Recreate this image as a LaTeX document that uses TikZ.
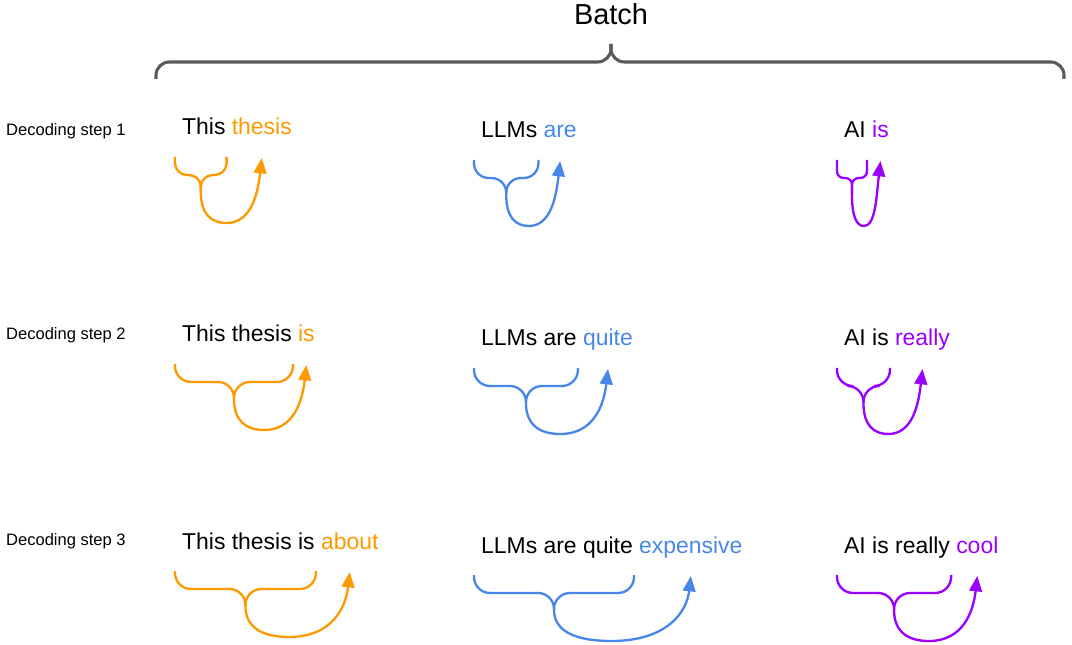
\documentclass[tikz,border=0pt]{standalone}
\usepackage{fontspec}
\setmainfont{Liberation Sans}
\usetikzlibrary{calc,arrows.meta}
\definecolor{tokorange}{HTML}{FF9900}
\definecolor{tokblue}{HTML}{4A86E8}
\definecolor{tokpurple}{HTML}{9900FF}
\definecolor{bracegray}{HTML}{595959}

% brace under the context words, arrow up to the new word
\newcommand{\tokbrace}[4][12pt]{%
  \coordinate (bl) at ($(#2.base west)+(-6,22)$);
  \coordinate (br) at ($(#2.base east)+(0,22)$);
  \coordinate (bm) at ($(bl)!0.5!(br)+(0,18)$);
  \coordinate (bc) at ($(bm)+(0,17)$);
  \coordinate (tip) at ($(#3.base)+(0,23)$);
  \coordinate (bx) at ($(bc)!0.42!(tip)$);
  \coordinate (by) at ($(#2.base)+(0,88)$);
  \coordinate (bot) at (bx |- by);
  \draw[#4,rounded corners=#1] (bl) |- (bm) -- (bc);
  \draw[#4,rounded corners=#1] (br) |- (bm) -- (bc);
  \draw[#4,tokarrow] (bc) .. controls ($(bc)+(0,22)$) and ($(bot)!0.6!(bc |- bot)$) .. (bot)
    .. controls ($(bot)!0.7!(tip |- bot)$) and ($(tip)+(-4,36)$) .. (tip);
}

\begin{document}
\begin{tikzpicture}[x=0.75pt,y=-0.75pt,
  word/.style={font=\fontsize{17.2}{20}\selectfont,inner sep=0pt,anchor=base west},
  newword/.style={word,xshift=3pt},
  steplabel/.style={font=\fontsize{12.4}{15}\selectfont,inner sep=0pt,anchor=base west},
  tokarrow/.style={-{Triangle[length=11.5pt,width=9.5pt]}},
  every path/.style={line width=1.75pt}]
\useasboundingbox (0,0) rectangle (1072,645);

% batch brace
\node[font=\fontsize{21.7}{26}\selectfont,inner sep=0pt,anchor=base] (batch) at (611,25) {Batch};
\draw[bracegray,line width=2.3pt,rounded corners=10pt] (156,79) |- (611,62) -- (611,44);
\draw[bracegray,line width=2.3pt,rounded corners=10pt] (1064,79) |- (611,62) -- (611,44);

% step labels
\node[steplabel] (s1) at (5,136) {Decoding step 1};
\node[steplabel] (s2) at (5,340) {Decoding step 2};
\node[steplabel] (s3) at (5,546) {Decoding step 3};

% step 1
\node[word] (c11) at (181,135) {This};
\node[newword,text=tokorange] (n11) at (c11.base east) {thesis};
\node[word] (c12) at (480,138) {LLMs};
\node[newword,text=tokblue] (n12) at (c12.base east) {are};
\node[word] (c13) at (843,138) {AI};
\node[newword,text=tokpurple] (n13) at (c13.base east) {is};
\tokbrace[9pt]{c11}{n11}{tokorange}
\tokbrace[11pt]{c12}{n12}{tokblue}
\tokbrace[5pt]{c13}{n13}{tokpurple}

% step 2
\node[word] (c21) at (181,342) {This thesis};
\node[newword,text=tokorange] (n21) at (c21.base east) {is};
\node[word] (c22) at (480,346) {LLMs are};
\node[newword,text=tokblue] (n22) at (c22.base east) {quite};
\node[word] (c23) at (843,346) {AI is};
\node[newword,text=tokpurple] (n23) at (c23.base east) {really};
\tokbrace{c21}{n21}{tokorange}
\tokbrace{c22}{n22}{tokblue}
\tokbrace{c23}{n23}{tokpurple}

% step 3
\node[word] (c31) at (181,549) {This thesis is};
\node[newword,text=tokorange] (n31) at (c31.base east) {about};
\node[word] (c32) at (480,553) {LLMs are quite};
\node[newword,text=tokblue] (n32) at (c32.base east) {expensive};
\node[word] (c33) at (843,553) {AI is really};
\node[newword,text=tokpurple] (n33) at (c33.base east) {cool};
\tokbrace{c31}{n31}{tokorange}
\tokbrace{c32}{n32}{tokblue}
\tokbrace{c33}{n33}{tokpurple}
\end{tikzpicture}
\end{document}
